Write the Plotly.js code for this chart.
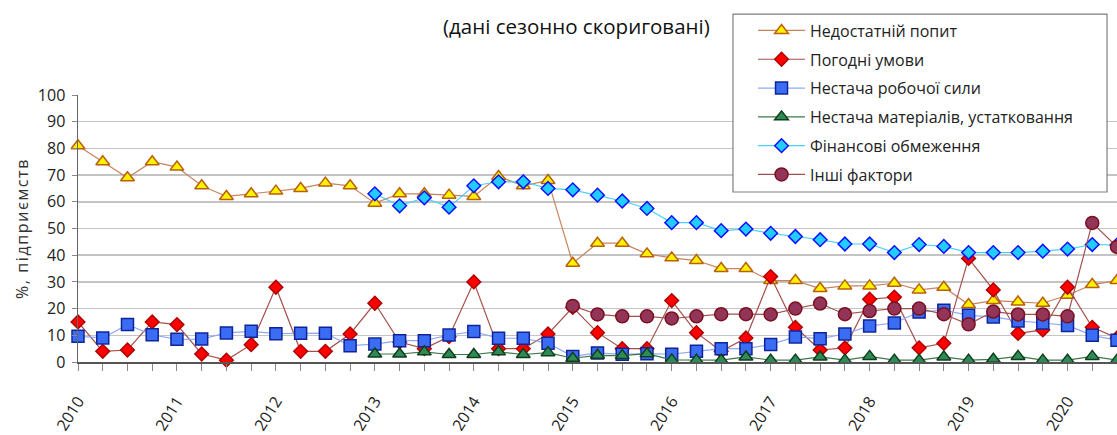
<!DOCTYPE html>
<html>
<head>
<meta charset="utf-8">
<script src="https://cdn.plot.ly/plotly-3.0.1.min.js"></script>
<style>
html,body{margin:0;padding:0;background:#fff;}
#chart{width:1117px;height:435px;}
.ytitle{letter-spacing:1.6px;}
</style>
</head>
<body>
<div id="chart"></div>
<script>
// Quarters 2010 Q1 .. 2020 Q3
const years = ["2010","2011","2012","2013","2014","2015","2016","2017","2018","2019","2020"];
const quarters = [];
years.forEach(y => { for (let q = 1; q <= 4; q++) quarters.push(y + " Q" + q); });
quarters.length = 43;
const tickLabels = quarters.map(q => q.endsWith("Q1") ? q.slice(0, 4) : "");

const seriesNames = ["Недостатній попит","Погодні умови","Нестача робочої сили","Нестача матеріалів, устатковання","Фінансові обмеження","Інші фактори"];

const demand = [81,75,69,75,73,66,62,63,64,65,67,66,59.5,63,63,62.5,62,69.5,66,68,37,44.5,44.5,40.5,39,38,35,35,30.5,30.5,27.5,28.5,28.5,29.5,27,28,21.5,23,22.5,22,25,29,30.5];
const weather = [15,4,4.5,15,14,3,0.7,6.5,28,4,4,10.5,22,7.5,5,9.5,30,5,5,10.5,20.5,11,5,5,23,11,4,9,32,13,4.5,5.3,23.5,24.3,5.3,7,38.8,27,10.7,12,28,13,9];
const labour = [9.6,9,14,10.2,8.5,8.6,10.9,11.5,10.6,10.8,10.8,6.1,6.7,8,8,10.1,11.4,8.9,8.9,7,2.1,3.4,2.9,3.1,2.9,4,5,5,6.6,9.4,8.75,10.5,13.5,14.6,18.7,19.4,17.5,16.9,15.4,14.6,13.7,10,8.1];
const materials = [3,3,3.8,2.8,2.8,3.8,2.8,3.5,1.4,2.5,2.4,3.1,0.8,0.7,0.7,1.9,0.7,0.7,1.9,0.7,2.1,0.7,0.7,1.9,0.7,1,2.1,0.7,0.7,2.1,0.7];
const finance = [63,58.5,61.5,58,66,67.5,67.5,65,64.5,62.5,60.3,57.5,52.2,52.2,49.2,49.8,48.2,47,45.8,44.2,44.2,41,44,43.3,41,41,41,41.5,42.3,44,43.8];
const others = [21,17.8,17.1,17.1,16.3,17.1,17.9,17.9,17.8,20,21.9,17.9,19.1,20,20,17.9,14.1,18.9,17.8,17.8,17.1,52.1,43.1];

function tr(name, y, startIdx, lineColor, symbol, size, fill, outline, group) {
  return {
    type: "scatter", mode: "lines+markers", name: name,
    x: quarters.slice(startIdx, startIdx + y.length), y: y,
    line: {color: lineColor, width: 1.2},
    marker: {symbol: symbol, size: size, color: fill, line: {color: outline, width: 1.5}},
    cliponaxis: false, legendgroup: group
  };
}

const data = [
  tr(seriesNames[0], demand, 0, "#C8835E", "triangle-up", 12, "#FFF200", "#B8600A", "a"),
  tr(seriesNames[1], weather, 0, "#A5504A", "diamond", 10.5, "#FF0000", "#B00000", "b"),
  tr(seriesNames[2], labour, 0, "#8FA9F8", "square", 12, "#3A6CF4", "#10249A", "c"),
  tr(seriesNames[3], materials, 12, "#3C7A4A", "triangle-up", 12, "#2E8B57", "#0E3E1A", "d"),
  tr(seriesNames[4], finance, 12, "#48D0FF", "diamond", 10.5, "#22CCFF", "#1010FF", "e"),
  tr(seriesNames[5], others, 20, "#A0504D", "circle", 13, "#933558", "#7A1020", "f")
];

const layout = {
  width: 1117, height: 435,
  margin: {l: 78, r: 0, t: 95, b: 73},
  paper_bgcolor: "#fff", plot_bgcolor: "#fff",
  font: {family: "Open Sans, sans-serif", color: "#222"},
  title: {text: "(дані сезонно скориговані)", x: 0.516, xanchor: "center", xref: "container",
          y: 0.938, yanchor: "middle", yref: "container", font: {size: 20.5, color: "#111"}},
  showlegend: true,
  legend: {x: 0.6497, xanchor: "left", y: 1.305, yanchor: "top",
           bgcolor: "rgba(0,0,0,0)", borderwidth: 0,
           font: {size: 16, color: "#222"}, tracegroupgap: 5, itemwidth: 47,
           traceorder: "grouped"},
  shapes: [{type: "rect", xref: "paper", yref: "paper",
            x0: 0.6304, x1: 0.9904, y0: 0.6367, y1: 1.303,
            fillcolor: "#fff", line: {color: "#7f7f7f", width: 1.2}, layer: "above"}],
  xaxis: {
    type: "category", range: [0, 42],
    tickmode: "array", tickvals: quarters, ticktext: tickLabels,
    tickangle: -58, tickfont: {size: 16, color: "#222"},
    ticks: "outside", ticklen: 7, tickcolor: "#888", tickwidth: 1,
    ticklabelstandoff: 15,
    showgrid: false, showline: true, linecolor: "#555", linewidth: 1.5,
    zeroline: false, fixedrange: true
  },
  yaxis: {
    range: [0, 100], tickmode: "array", tickvals: [0,10,20,30,40,50,60,70,80,90,100],
    tickfont: {size: 16, color: "#222"},
    ticks: "outside", ticklen: 5, tickcolor: "#888", ticklabelstandoff: 3,
    showgrid: true, gridcolor: "#C4C4C4", gridwidth: 1.5,
    showline: true, linecolor: "#666", linewidth: 1.5, zeroline: false,
    title: {text: "%, підприємств", font: {size: 16, color: "#333"}, standoff: 5},
    fixedrange: true
  }
};

Plotly.newPlot("chart", data, layout, {displayModeBar: false, staticPlot: true});
</script>
</body>
</html>
